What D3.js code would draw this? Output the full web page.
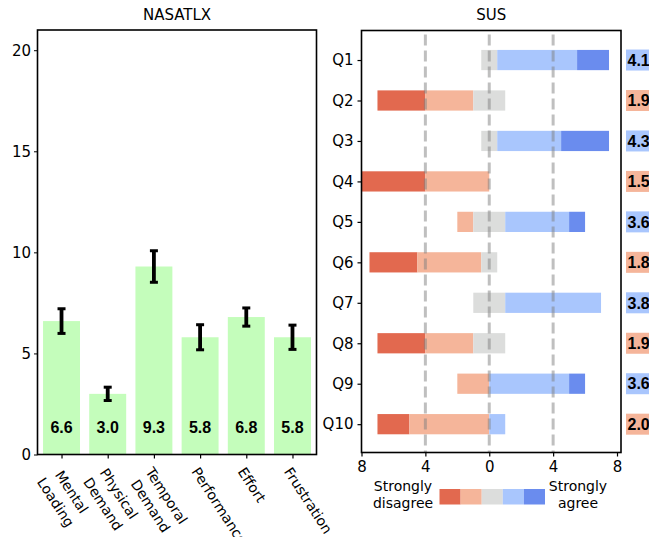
<!DOCTYPE html>
<html>
<head>
<meta charset="utf-8">
<script src="https://cdn.jsdelivr.net/npm/d3@7"></script>
<style>
  body { margin: 0; background: #fff; }
  svg { display: block; font-family: "DejaVu Sans", sans-serif; }
</style>
</head>
<body>
<svg id="chart" width="649" height="537"></svg>
<script>
// NASA-TLX workload dimensions (mean and error half-width)
const tlxCategories = ["Mental\nLoading", "Physical\nDemand", "Temporal\nDemand", "Performance", "Effort", "Frustration"];
const tlxMeans = [6.6, 3.0, 9.3, 5.8, 6.8, 5.8];
const tlxErrors = [0.61, 0.33, 0.78, 0.62, 0.45, 0.60];
const tlxTicks = [0, 5, 10, 15, 20];

// SUS answers: number of participants per Likert level for each question
const susQuestions = ["Q1", "Q2", "Q3", "Q4", "Q5", "Q6", "Q7", "Q8", "Q9", "Q10"];
const susStronglyDisagree = [0, 3, 0, 4, 0, 3, 0, 3, 0, 2];
const susDisagree         = [0, 3, 0, 4, 1, 4, 0, 3, 2, 5];
const susNeutral          = [1, 2, 1, 0, 2, 1, 2, 2, 0, 0];
const susAgree            = [5, 0, 4, 0, 4, 0, 6, 0, 5, 1];
const susStronglyAgree    = [2, 0, 3, 0, 1, 0, 0, 0, 1, 0];
const susTicks = [-8, -4, 0, 4, 8];
const susGuides = [-4, 0, 4];

const likertColors = ["#e2694f", "#f5b59a", "#dcdddc", "#a9c6fd", "#6a8cee"];

const svg = d3.select("#chart");
const tickSize = 15;
const smallSize = 14;
const titleSize = 15;
const boldFont = "'Liberation Sans', Arial, sans-serif";

// ---------------- NASATLX panel ----------------
const L = { x0: 37.5, x1: 316.5, y0: 30, y1: 454.5 };
const xL = d3.scaleLinear().domain([-0.52, 5.52]).range([L.x0, L.x1]);
const yL = d3.scaleLinear().domain([0, 21]).range([L.y1, L.y0]);
const barW = xL(0.8) - xL(0);

const gL = svg.append("g");

gL.selectAll("rect.tlx").data(tlxMeans).join("rect")
  .attr("class", "tlx")
  .attr("x", (d, i) => xL(i) - barW / 2)
  .attr("width", barW)
  .attr("y", d => yL(d))
  .attr("height", d => yL(0) - yL(d))
  .attr("fill", "#c4fdbb");

// error bars
const eb = gL.selectAll("g.err").data(tlxMeans).join("g").attr("class", "err");
eb.append("line")
  .attr("x1", (d, i) => xL(i)).attr("x2", (d, i) => xL(i))
  .attr("y1", (d, i) => yL(d - tlxErrors[i])).attr("y2", (d, i) => yL(d + tlxErrors[i]))
  .attr("stroke", "#000").attr("stroke-width", 3.8);
[-1, 1].forEach(s => {
  eb.append("line")
    .attr("x1", (d, i) => xL(i) - 4).attr("x2", (d, i) => xL(i) + 4)
    .attr("y1", (d, i) => yL(d + s * tlxErrors[i])).attr("y2", (d, i) => yL(d + s * tlxErrors[i]))
    .attr("stroke", "#000").attr("stroke-width", 3);
});

// value labels
gL.selectAll("text.val").data(tlxMeans).join("text")
  .attr("class", "val")
  .attr("x", (d, i) => xL(i))
  .attr("y", 432.5)
  .attr("text-anchor", "middle")
  .attr("font-family", boldFont)
  .attr("font-size", 16).attr("font-weight", "bold")
  .text(d => d.toFixed(1));

// y axis
const yAxisL = d3.axisLeft(yL).tickValues(tlxTicks).tickSize(3.5).tickPadding(3);
gL.append("g").attr("transform", `translate(${L.x0},0)`).call(yAxisL)
  .call(g => g.select(".domain").remove())
  .call(g => g.selectAll("text").attr("font-size", tickSize).attr("font-family", "DejaVu Sans").attr("fill", "#000"))
  .call(g => g.selectAll("line").attr("stroke", "#000").attr("stroke-width", 1));

// x ticks
const xAxisL = d3.axisBottom(xL).tickValues(d3.range(tlxCategories.length)).tickSize(4).tickFormat("");
gL.append("g").attr("transform", `translate(0,${L.y1})`).call(xAxisL)
  .call(g => g.select(".domain").remove())
  .call(g => g.selectAll("line").attr("stroke", "#000").attr("stroke-width", 1.2));

// rotated category labels, lines centred on each other
const catLab = gL.selectAll("text.cat").data(tlxCategories).join("text")
  .attr("class", "cat")
  .attr("font-size", smallSize)
  .attr("text-anchor", "middle")
  .attr("transform", (d, i) => `translate(${xL(i) - 9},${L.y1 + 17}) rotate(57)`);
catLab.each(function (d) {
  const t = d3.select(this);
  const lines = d.split("\n");
  const spans = lines.map((line, k) =>
    t.append("tspan").attr("dy", k === 0 ? 0 : 19).text(line));
  const widths = spans.map(s => s.node().getComputedTextLength());
  const wMax = d3.max(widths);
  spans.forEach(s => s.attr("x", wMax / 2));
});

// frame
gL.append("rect").attr("x", L.x0).attr("y", L.y0)
  .attr("width", L.x1 - L.x0).attr("height", L.y1 - L.y0)
  .attr("fill", "none").attr("stroke", "#000").attr("stroke-width", 1.6);

gL.append("text").attr("x", (L.x0 + L.x1) / 2).attr("y", 20)
  .attr("text-anchor", "middle").attr("font-size", titleSize).text("NASATLX");

// ---------------- SUS panel ----------------
const R = { x0: 361.5, x1: 621, y0: 30.5, y1: 452.5 };
const xR = d3.scaleLinear().domain([-8, 8.25]).range([R.x0, R.x1]);
const yR = d3.scaleLinear().domain([-0.73, 9.7]).range([R.y0, R.y1]);
const barH = yR(0.5) - yR(0);

const levels = [susStronglyDisagree, susDisagree, susNeutral, susAgree, susStronglyAgree];
const segments = [];
const scores = [];
susQuestions.forEach((q, i) => {
  const counts = levels.map(a => a[i]);
  const total = d3.sum(counts);
  let start = -(counts[0] + counts[1] + counts[2] / 2);
  counts.forEach((c, k) => {
    if (c > 0) segments.push({ row: i, level: k, from: start, to: start + c });
    start += c;
  });
  scores.push(d3.sum(counts, (c, k) => c * (k + 1)) / total);
});

const gR = svg.append("g");
const clip = gR.append("clipPath").attr("id", "susClip");
clip.append("rect").attr("x", R.x0).attr("y", R.y0).attr("width", R.x1 - R.x0).attr("height", R.y1 - R.y0);

const plot = gR.append("g").attr("clip-path", "url(#susClip)");
plot.selectAll("rect.seg").data(segments).join("rect")
  .attr("class", "seg")
  .attr("x", d => xR(d.from))
  .attr("width", d => xR(d.to) - xR(d.from))
  .attr("y", d => yR(d.row) - barH / 2)
  .attr("height", barH)
  .attr("fill", d => likertColors[d.level]);

plot.selectAll("line.guide").data(susGuides).join("line")
  .attr("class", "guide")
  .attr("x1", d => xR(d)).attr("x2", d => xR(d))
  .attr("y1", R.y0 + 4).attr("y2", R.y1)
  .attr("stroke", "#808080").attr("stroke-opacity", 0.5)
  .attr("stroke-width", 3).attr("stroke-dasharray", "11,5");

// mean score boxes to the right of the panel
const boxes = gR.selectAll("g.score").data(scores).join("g").attr("class", "score")
  .attr("transform", (d, i) => `translate(626,${yR(i)})`);
boxes.append("rect").attr("x", 0).attr("y", -10.5).attr("width", 30).attr("height", 21)
  .attr("fill", d => d >= 3 ? likertColors[3] : likertColors[1]);
boxes.append("text").attr("x", 1.5).attr("y", 5.7)
  .attr("font-family", boldFont)
  .attr("font-size", 16).attr("font-weight", "bold").text(d => d.toFixed(1));

// axes
const yAxisR = d3.axisLeft(yR).tickValues(d3.range(susQuestions.length))
  .tickFormat(i => susQuestions[i]).tickSize(4).tickPadding(4);
gR.append("g").attr("transform", `translate(${R.x0},0)`).call(yAxisR)
  .call(g => g.select(".domain").remove())
  .call(g => g.selectAll("text").attr("font-size", tickSize).attr("font-family", "DejaVu Sans").attr("fill", "#000"))
  .call(g => g.selectAll("line").attr("stroke", "#000").attr("stroke-width", 1.2));

const xAxisR = d3.axisBottom(xR).tickValues(susTicks).tickFormat(d => Math.abs(d)).tickSize(4).tickPadding(5);
gR.append("g").attr("transform", `translate(0,${R.y1})`).call(xAxisR)
  .call(g => g.select(".domain").remove())
  .call(g => g.selectAll("text").attr("font-size", tickSize).attr("font-family", "DejaVu Sans").attr("fill", "#000"))
  .call(g => g.selectAll("line").attr("stroke", "#000").attr("stroke-width", 1.2));

gR.append("rect").attr("x", R.x0).attr("y", R.y0)
  .attr("width", R.x1 - R.x0).attr("height", R.y1 - R.y0)
  .attr("fill", "none").attr("stroke", "#000").attr("stroke-width", 1.6);

gR.append("text").attr("x", (R.x0 + R.x1) / 2).attr("y", 20)
  .attr("text-anchor", "middle").attr("font-size", titleSize).text("SUS");

// legend: colour strip between the two ends of the scale
const legend = gR.append("g");
const patchX = d3.scaleLinear().domain([0, 5]).range([439.5, 545]);
legend.selectAll("rect").data(likertColors).join("rect")
  .attr("x", (d, i) => patchX(i)).attr("width", patchX(1) - patchX(0))
  .attr("y", 489).attr("height", 15.5).attr("fill", d => d);
[["Strongly", "disagree", 403], ["Strongly", "agree", 578]].forEach(([a, b, cx]) => {
  const t = legend.append("text").attr("text-anchor", "middle").attr("font-size", smallSize);
  t.append("tspan").attr("x", cx).attr("y", 491).text(a);
  t.append("tspan").attr("x", cx).attr("y", 507.5).text(b);
});
</script>
</body>
</html>
